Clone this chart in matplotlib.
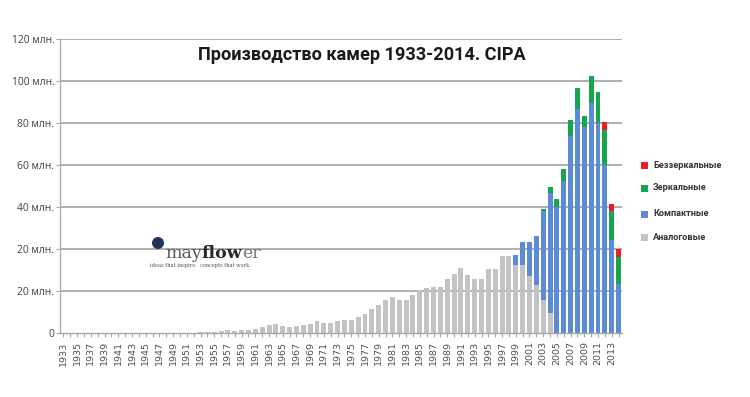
import matplotlib
matplotlib.use("Agg")
import matplotlib.pyplot as plt
from matplotlib.patches import Rectangle, Ellipse
import numpy as np

years = list(range(1933, 2015))

analog = [0]*18 + [
    0.1, 0.2, 0.3, 0.4, 0.5, 0.8, 1.2, 0.9, 1.6, 1.3,      # 1951-1960
    2.0, 3.0, 4.0, 4.4, 3.4, 2.8, 3.4, 3.9, 4.5, 5.5,      # 1961-1970
    5.0, 5.0, 5.5, 6.3, 6.4, 7.4, 9.0, 11.5, 13.4, 15.6,   # 1971-1980
    17.2, 15.6, 15.5, 18.2, 20.6, 21.5, 22.0, 22.1, 25.5, 28.2,  # 1981-1990
    30.9, 27.5, 25.8, 25.8, 30.6, 30.4, 36.8, 36.9, 32.3, 32.3,  # 1991-2000
    27.2, 22.9, 15.5, 9.5, 0, 0, 0, 0, 0, 0,               # 2001-2010
    0, 0, 0, 0]                                            # 2011-2014

compact = [0]*66 + [
    4.9, 11.1, 16.1, 23.5, 42.8, 57.3, 59.9, 72.3, 94.0, 106.8, 98.0, 109.6,
    100.1, 79.8, 44.5, 23.4]                               # 1999-2014

dslr = [0]*70 + [0.8, 2.6, 3.7, 5.6, 7.3, 9.8, 5.2, 12.7, 14.8, 16.8, 13.5, 12.9]  # 2003-2014

mirrorless = [0]*79 + [4.1, 3.2, 3.5]                      # 2012-2014

series_labels = ["Аналоговые", "Компактные", "Зеркальные", "Беззеркальные"]
series_colors = ["#c3c3c3", "#5b8bd4", "#17a550", "#ea1c24"]

ytick_vals = [0, 20, 40, 60, 80, 100, 120, 140]
ytick_labels = ["0", "20 млн.", "20 млн.", "40 млн.", "60 млн.", "80 млн.", "100 млн.", "120 млн."]
xtick_years = list(range(1933, 2015, 2))

title = "Производство камер 1933-2014. CIPA"

W, H = 750, 397
fig = plt.figure(figsize=(W/100, H/100), dpi=100)
fig.patch.set_facecolor("white")
renderer = fig.canvas.get_renderer()

def fx(px):
    return px / W

def fy(py):
    return 1 - py / H

def fit_text(t, target_px):
    bb = t.get_window_extent(renderer)
    t.set_fontsize(t.get_fontsize() * target_px / bb.width)

ax = fig.add_axes([fx(60), fy(333), fx(622) - fx(60), fy(39) - fy(333)])

x = np.array(years)
bottom = np.zeros(len(years))
for vals, col in zip([analog, compact, dslr, mirrorless], series_colors):
    v = np.array(vals, dtype=float)
    ax.bar(x, v, width=0.72, bottom=bottom, color=col, linewidth=0, zorder=2)
    bottom += v

ax.set_xlim(1932.5, 2014.5)
ax.set_ylim(0, 140)

ax.set_yticks(ytick_vals)
ax.set_yticklabels(ytick_labels, family=["Open Sans", "DejaVu Sans"], fontsize=7.4, color="#404040")
for yv in ytick_vals[1:]:
    ax.axhline(yv, color="#a8a8a8", linewidth=1.3, zorder=1)

ax.set_xticks(xtick_years)
ax.set_xticklabels([str(y) for y in xtick_years], rotation=90, fontsize=6.8,
                   color="#505050", family="DejaVu Sans")
ax.set_xticks(years, minor=True)
ax.tick_params(axis="x", which="both", length=3, color="#a8a8a8", width=0.8, pad=3)
ax.tick_params(axis="y", length=3, color="#a8a8a8", width=0.8, pad=1)

for s in ["top", "right"]:
    ax.spines[s].set_visible(False)
ax.spines["left"].set_color("#b0b0b0")
ax.spines["left"].set_linewidth(1.0)
ax.spines["bottom"].set_color("#a8a8a8")
ax.spines["bottom"].set_linewidth(1.0)

tt = fig.text(fx(362), fy(55), title, ha="center", va="center", fontsize=15, fontweight="bold",
              family=["Roboto", "DejaVu Sans"], color="#1a1a1a")
fit_text(tt, 329)

# legend
legend_rows = [("Беззеркальные", series_colors[3], 165),
               ("Зеркальные", series_colors[2], 188),
               ("Компактные", series_colors[1], 214),
               ("Аналоговые", series_colors[0], 238)]
ref = fig.text(0, 0, "Беззеркальные", fontsize=8, fontweight="bold", family=["Roboto", "DejaVu Sans"])
fit_text(ref, 68)
lfs = ref.get_fontsize()
ref.remove()
for lab, col, py in legend_rows:
    fig.patches.append(Rectangle((fx(641), fy(py + 3.5)), fx(7), 7 / H, transform=fig.transFigure,
                                 facecolor=col, edgecolor="none"))
    fig.text(fx(653), fy(py), lab, ha="left", va="center", fontsize=lfs, fontweight="bold",
             family=["Roboto", "DejaVu Sans"], color="#333333")

# mayflower logo
fig.patches.append(Ellipse((fx(158), fy(243)), 12 / W, 12 / H, transform=fig.transFigure,
                           facecolor="#1e3553", edgecolor="none"))
xpos = fx(165)
for part, col, wt in [("may", "#555555", "normal"), ("flow", "#2a2a2a", "bold"), ("er", "#777777", "normal")]:
    t = fig.text(xpos, fy(258), part, ha="left", va="baseline", fontsize=12.5,
                 family="DejaVu Serif", color=col, fontweight=wt)
    bb = t.get_window_extent(renderer)
    xpos = bb.x1 / W
fig.text(fx(150), fy(266), "ideas that inspire.  concepts that work.", ha="left", va="center",
         fontsize=3.6, family="DejaVu Serif", color="#555555")

fig.savefig("out.png", dpi=100, facecolor="white")
